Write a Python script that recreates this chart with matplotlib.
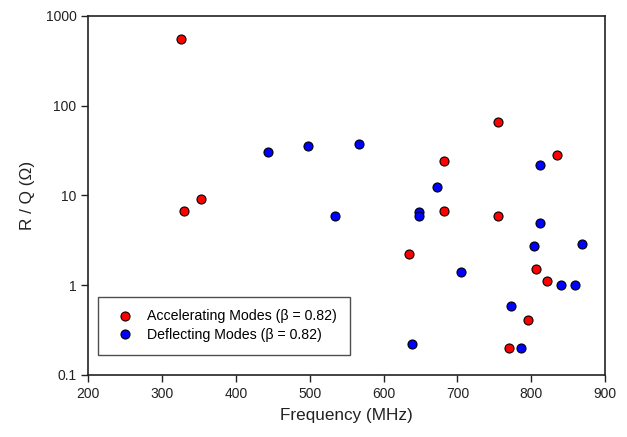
"""
    R/Q versus frequency for accelerating and deflecting modes (beta = 0.82).
"""
# Modules:
import matplotlib
matplotlib.use("Agg")
import matplotlib.pyplot as plt
from matplotlib.ticker import FixedLocator, FixedFormatter

plt.rcParams['font.family'] = ['Liberation Sans', 'DejaVu Sans']

# Data:
acc_freq = [325, 330, 353, 755, 682, 835, 682, 755, 635, 806, 821, 795, 770]
acc_rq = [550, 6.7, 9.0, 65, 24, 28, 6.7, 5.9, 2.2, 1.5, 1.1, 0.41, 0.20]

defl_freq = [443, 497, 566, 534, 812, 672, 648, 648, 812, 804, 869, 705, 840, 859, 772, 786, 638]
defl_rq = [30, 35, 37, 5.9, 22, 12.5, 6.6, 5.9, 4.9, 2.7, 2.85, 1.4, 1.0, 1.0, 0.59, 0.20, 0.22]

x_ticks = [200, 300, 400, 500, 600, 700, 800, 900]
y_ticks = [0.1, 1, 10, 100, 1000]
y_tick_labels = ["0.1", "1", "10", "100", "1000"]

# Figure:
fig = plt.figure(figsize=(6.27, 4.37), dpi=100)
ax = fig.add_axes([0.141, 0.142, 0.824, 0.822])

# Points:
ax.plot(acc_freq, acc_rq, 'o', color='#ff0000', markeredgecolor='black',
        markeredgewidth=0.8, markersize=6.5, label='Accelerating Modes (β = 0.82)')
ax.plot(defl_freq, defl_rq, 'o', color='#0000ff', markeredgecolor='black',
        markeredgewidth=0.8, markersize=6.5, label='Deflecting Modes (β = 0.82)')

# Axes:
ax.set_yscale('log')
ax.set_xlim(200, 900)
ax.set_ylim(0.1, 1000)
ax.xaxis.set_major_locator(FixedLocator(x_ticks))
ax.yaxis.set_major_locator(FixedLocator(y_ticks))
ax.yaxis.set_major_formatter(FixedFormatter(y_tick_labels))
ax.yaxis.set_minor_locator(FixedLocator([]))
ax.tick_params(direction='out', length=5, width=1, labelsize=10, colors='#222222')
for s in ax.spines.values():
    s.set_linewidth(1.2)
    s.set_color('#222222')

ax.set_xlabel("Frequency (MHz)", fontsize=12.3, color='#222222', labelpad=5)
ax.set_ylabel("R / Q (Ω)", fontsize=12.3, color='#222222', labelpad=8)

# Legend:
leg = ax.legend(loc='lower left', bbox_to_anchor=(0.019, 0.055), fontsize=10.2,
                frameon=True, fancybox=False, borderpad=0.9, handletextpad=0.55,
                borderaxespad=0, labelspacing=0.35)
leg.get_frame().set_edgecolor('#222222')
leg.get_frame().set_linewidth(1.0)

fig.savefig("out.png", dpi=100)
